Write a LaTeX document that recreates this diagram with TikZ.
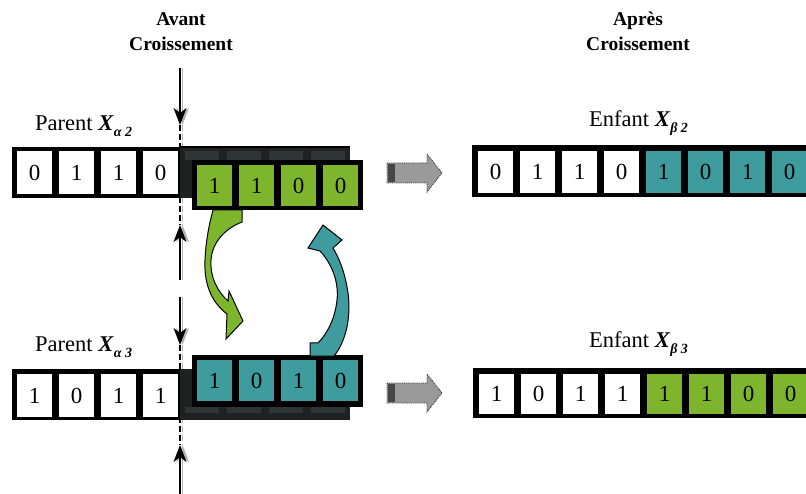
\documentclass[tikz,border=0pt]{standalone}
\usepackage{fontspec}
\setmainfont{Liberation Serif}
\usetikzlibrary{arrows.meta}
\definecolor{cgreen}{HTML}{7DB52C}
\definecolor{cteal}{HTML}{3E9C9E}
\definecolor{shadowdk}{HTML}{1E2222}
\definecolor{shadowcell}{HTML}{2F3535}
\definecolor{garrow}{HTML}{9A9A9A}
\newcommand\lowsub[1]{\raisebox{-0.25em}{\fontsize{14}{14}\selectfont\bfseries\itshape #1}}
\begin{document}
\begin{tikzpicture}[x=1pt,y=-1pt,
  cellbox/.style={anchor=north west,minimum width=35pt,minimum height=43pt,inner sep=0pt,outer sep=0pt,font=\fontsize{23}{23}\selectfont},
  movebox/.style={cellbox,minimum height=41pt},
  lbl/.style={anchor=base west,inner sep=0pt,font=\fontsize{22.5}{22.5}\selectfont},
  ttl/.style={anchor=base,inner sep=0pt,font=\fontsize{19.5}{19.5}\selectfont\bfseries},
  cutarrow/.style={line width=1.6pt,-{Stealth[length=17pt,width=13pt,inset=5pt]}},
  cutshadow/.style={line width=1.6pt,draw=gray!60,-{Stealth[length=17pt,width=13pt,inset=5pt]}},
  cutdash/.style={line width=1.5pt,dash pattern=on 6pt off 3pt},
  grayarrow/.style={fill=garrow,draw=gray!40!black,densely dotted,line width=0.9pt},
  swap/.style={draw=black,line width=1pt}
]
\useasboundingbox (0,0) rectangle (806,494);
\clip (0,0) rectangle (806,494);

% titles
\node[ttl] (avant1) at (181,26) {Avant};
\node[ttl] (avant2) at (181,51) {Croissement};
\node[ttl] (apres1) at (638,26) {Après};
\node[ttl] (apres2) at (638,51) {Croissement};

% cut-line coordinates
\coordinate (a1s) at (180,68);  \coordinate (a1e) at (180,125);
\coordinate (a2s) at (180,280); \coordinate (a2e) at (180,225);
\coordinate (a3s) at (180,297); \coordinate (a3e) at (180,345);
\coordinate (a4s) at (180,494); \coordinate (a4e) at (180,445);

% dashed cut lines (rows will cover the middle)
\draw[cutdash,gray!60] ([xshift=2.5pt]a1e) -- ([xshift=2.5pt]a2e);
\draw[cutdash] (a1e) -- (a2e);
\draw[cutdash,gray!60] ([xshift=2.5pt]a3e) -- ([xshift=2.5pt]a4e);
\draw[cutdash] (a3e) -- (a4e);

% cut arrows
\draw[cutshadow] ([xshift=2.5pt]a1s) -- ([xshift=2.5pt]a1e);
\draw[cutarrow] (a1s) -- (a1e);
\draw[cutshadow] ([xshift=2.5pt]a2s) -- ([xshift=2.5pt]a2e);
\draw[cutarrow] (a2s) -- (a2e);
\draw[cutshadow] ([xshift=2.5pt]a3s) -- ([xshift=2.5pt]a3e);
\draw[cutarrow] (a3s) -- (a3e);
\draw[cutshadow] ([xshift=2.5pt]a4s) -- ([xshift=2.5pt]a4e);
\draw[cutarrow] (a4s) -- (a4e);

% ---------------- Parent X_alpha2 ----------------
\node[lbl] (lp2) at (35,131) {Parent \textbf{\textit{X}}\lowsub{α 2}};
\fill[black] (12,147) rectangle (180,198);
\fill[shadowdk] (180,147) rectangle (350,198);
\draw[black,line width=1.2pt] (180,147) -- (350,147);
\foreach \i in {0,...,3} \fill[shadowcell] (185+42*\i,151) rectangle ++(34,9);
\node[cellbox,fill=white] (p2c1) at (17,151) {0};
\node[cellbox,fill=white] (p2c2) at (59,151) {1};
\node[cellbox,fill=white] (p2c3) at (101,151) {1};
\node[cellbox,fill=white] (p2c4) at (143,151) {0};
% moved green segment
\fill[black] (192,160) rectangle (363,210);
\node[movebox,fill=cgreen] (g1) at (197,165) {1};
\node[movebox,fill=cgreen] (g2) at (239,165) {1};
\node[movebox,fill=cgreen] (g3) at (281,165) {0};
\node[movebox,fill=cgreen] (g4) at (323,165) {0};

% ---------------- Parent X_alpha3 ----------------
\node[lbl] (lp3) at (35,352) {Parent \textbf{\textit{X}}\lowsub{α 3}};
\fill[black] (12,369) rectangle (180,420);
\fill[shadowdk] (180,369) rectangle (350,420);
\foreach \i in {0,...,3} \fill[shadowcell] (185+42*\i,407) rectangle ++(34,6);
\node[cellbox,fill=white] (p3c1) at (17,374) {1};
\node[cellbox,fill=white] (p3c2) at (59,374) {0};
\node[cellbox,fill=white] (p3c3) at (101,374) {1};
\node[cellbox,fill=white] (p3c4) at (143,374) {1};
% moved teal segment
\fill[black] (192,355) rectangle (363,407);
\node[movebox,fill=cteal] (t1) at (197,360) {1};
\node[movebox,fill=cteal] (t2) at (239,360) {0};
\node[movebox,fill=cteal] (t3) at (281,360) {1};
\node[movebox,fill=cteal] (t4) at (323,360) {0};

% ---------------- swap arrows ----------------
\filldraw[swap,fill=cgreen]
  (213,210) -- (242,210) -- (242,222)
  .. controls (226,228) and (212,242) .. (211,260)
  .. controls (210,277) and (217,291) .. (228,301)
  -- (229,291) -- (243,321) -- (226,339) -- (227,314)
  .. controls (210,301) and (204,282) .. (205,260)
  .. controls (206,240) and (209,225) .. (213,210) -- cycle;
\filldraw[swap,fill=cteal]
  (323,225) -- (308,248) -- (320,251)
  .. controls (332,264) and (339,282) .. (337,300)
  .. controls (335,320) and (326,335) .. (318,343)
  -- (310,343) -- (310,356) -- (334,356)
  .. controls (347,340) and (351,315) .. (348,293)
  .. controls (345,272) and (339,258) .. (333,248)
  -- (342,240) -- cycle;

% ---------------- gray arrows ----------------
\filldraw[grayarrow] (387,163) -- (427,163) -- (427,154) -- (442,173) -- (427,192) -- (427,183) -- (387,183) -- cycle;
\fill[gray!55!black] (388,164) rectangle (395,182);
\filldraw[grayarrow] (387,383) -- (427,383) -- (427,374) -- (442,393) -- (427,412) -- (427,403) -- (387,403) -- cycle;
\fill[gray!55!black] (388,384) rectangle (395,402);

% ---------------- Enfant X_beta2 ----------------
\node[lbl] (le2) at (589,127) {Enfant \textbf{\textit{X}}\lowsub{β 2}};
\fill[black] (472,145) rectangle (830,197);
\node[cellbox,fill=white,minimum height=42pt] (e2c1) at (478,151) {0};
\node[cellbox,fill=white,minimum height=42pt] (e2c2) at (520,151) {1};
\node[cellbox,fill=white,minimum height=42pt] (e2c3) at (562,151) {1};
\node[cellbox,fill=white,minimum height=42pt] (e2c4) at (604,151) {0};
\node[cellbox,fill=cteal,minimum height=42pt] (e2c5) at (646,151) {1};
\node[cellbox,fill=cteal,minimum height=42pt] (e2c6) at (688,151) {0};
\node[cellbox,fill=cteal,minimum height=42pt] (e2c7) at (730,151) {1};
\node[cellbox,fill=cteal,minimum height=42pt] (e2c8) at (772,151) {0};

% ---------------- Enfant X_beta3 ----------------
\node[lbl] (le3) at (589,348) {Enfant \textbf{\textit{X}}\lowsub{β 3}};
\fill[black] (473,368) rectangle (830,418);
\node[cellbox,fill=white,minimum height=40pt] (e3c1) at (479,374) {1};
\node[cellbox,fill=white,minimum height=40pt] (e3c2) at (521,374) {0};
\node[cellbox,fill=white,minimum height=40pt] (e3c3) at (563,374) {1};
\node[cellbox,fill=white,minimum height=40pt] (e3c4) at (605,374) {1};
\node[cellbox,fill=cgreen,minimum height=40pt] (e3c5) at (647,374) {1};
\node[cellbox,fill=cgreen,minimum height=40pt] (e3c6) at (689,374) {1};
\node[cellbox,fill=cgreen,minimum height=40pt] (e3c7) at (731,374) {0};
\node[cellbox,fill=cgreen,minimum height=40pt] (e3c8) at (773,374) {0};
\end{tikzpicture}
\end{document}
